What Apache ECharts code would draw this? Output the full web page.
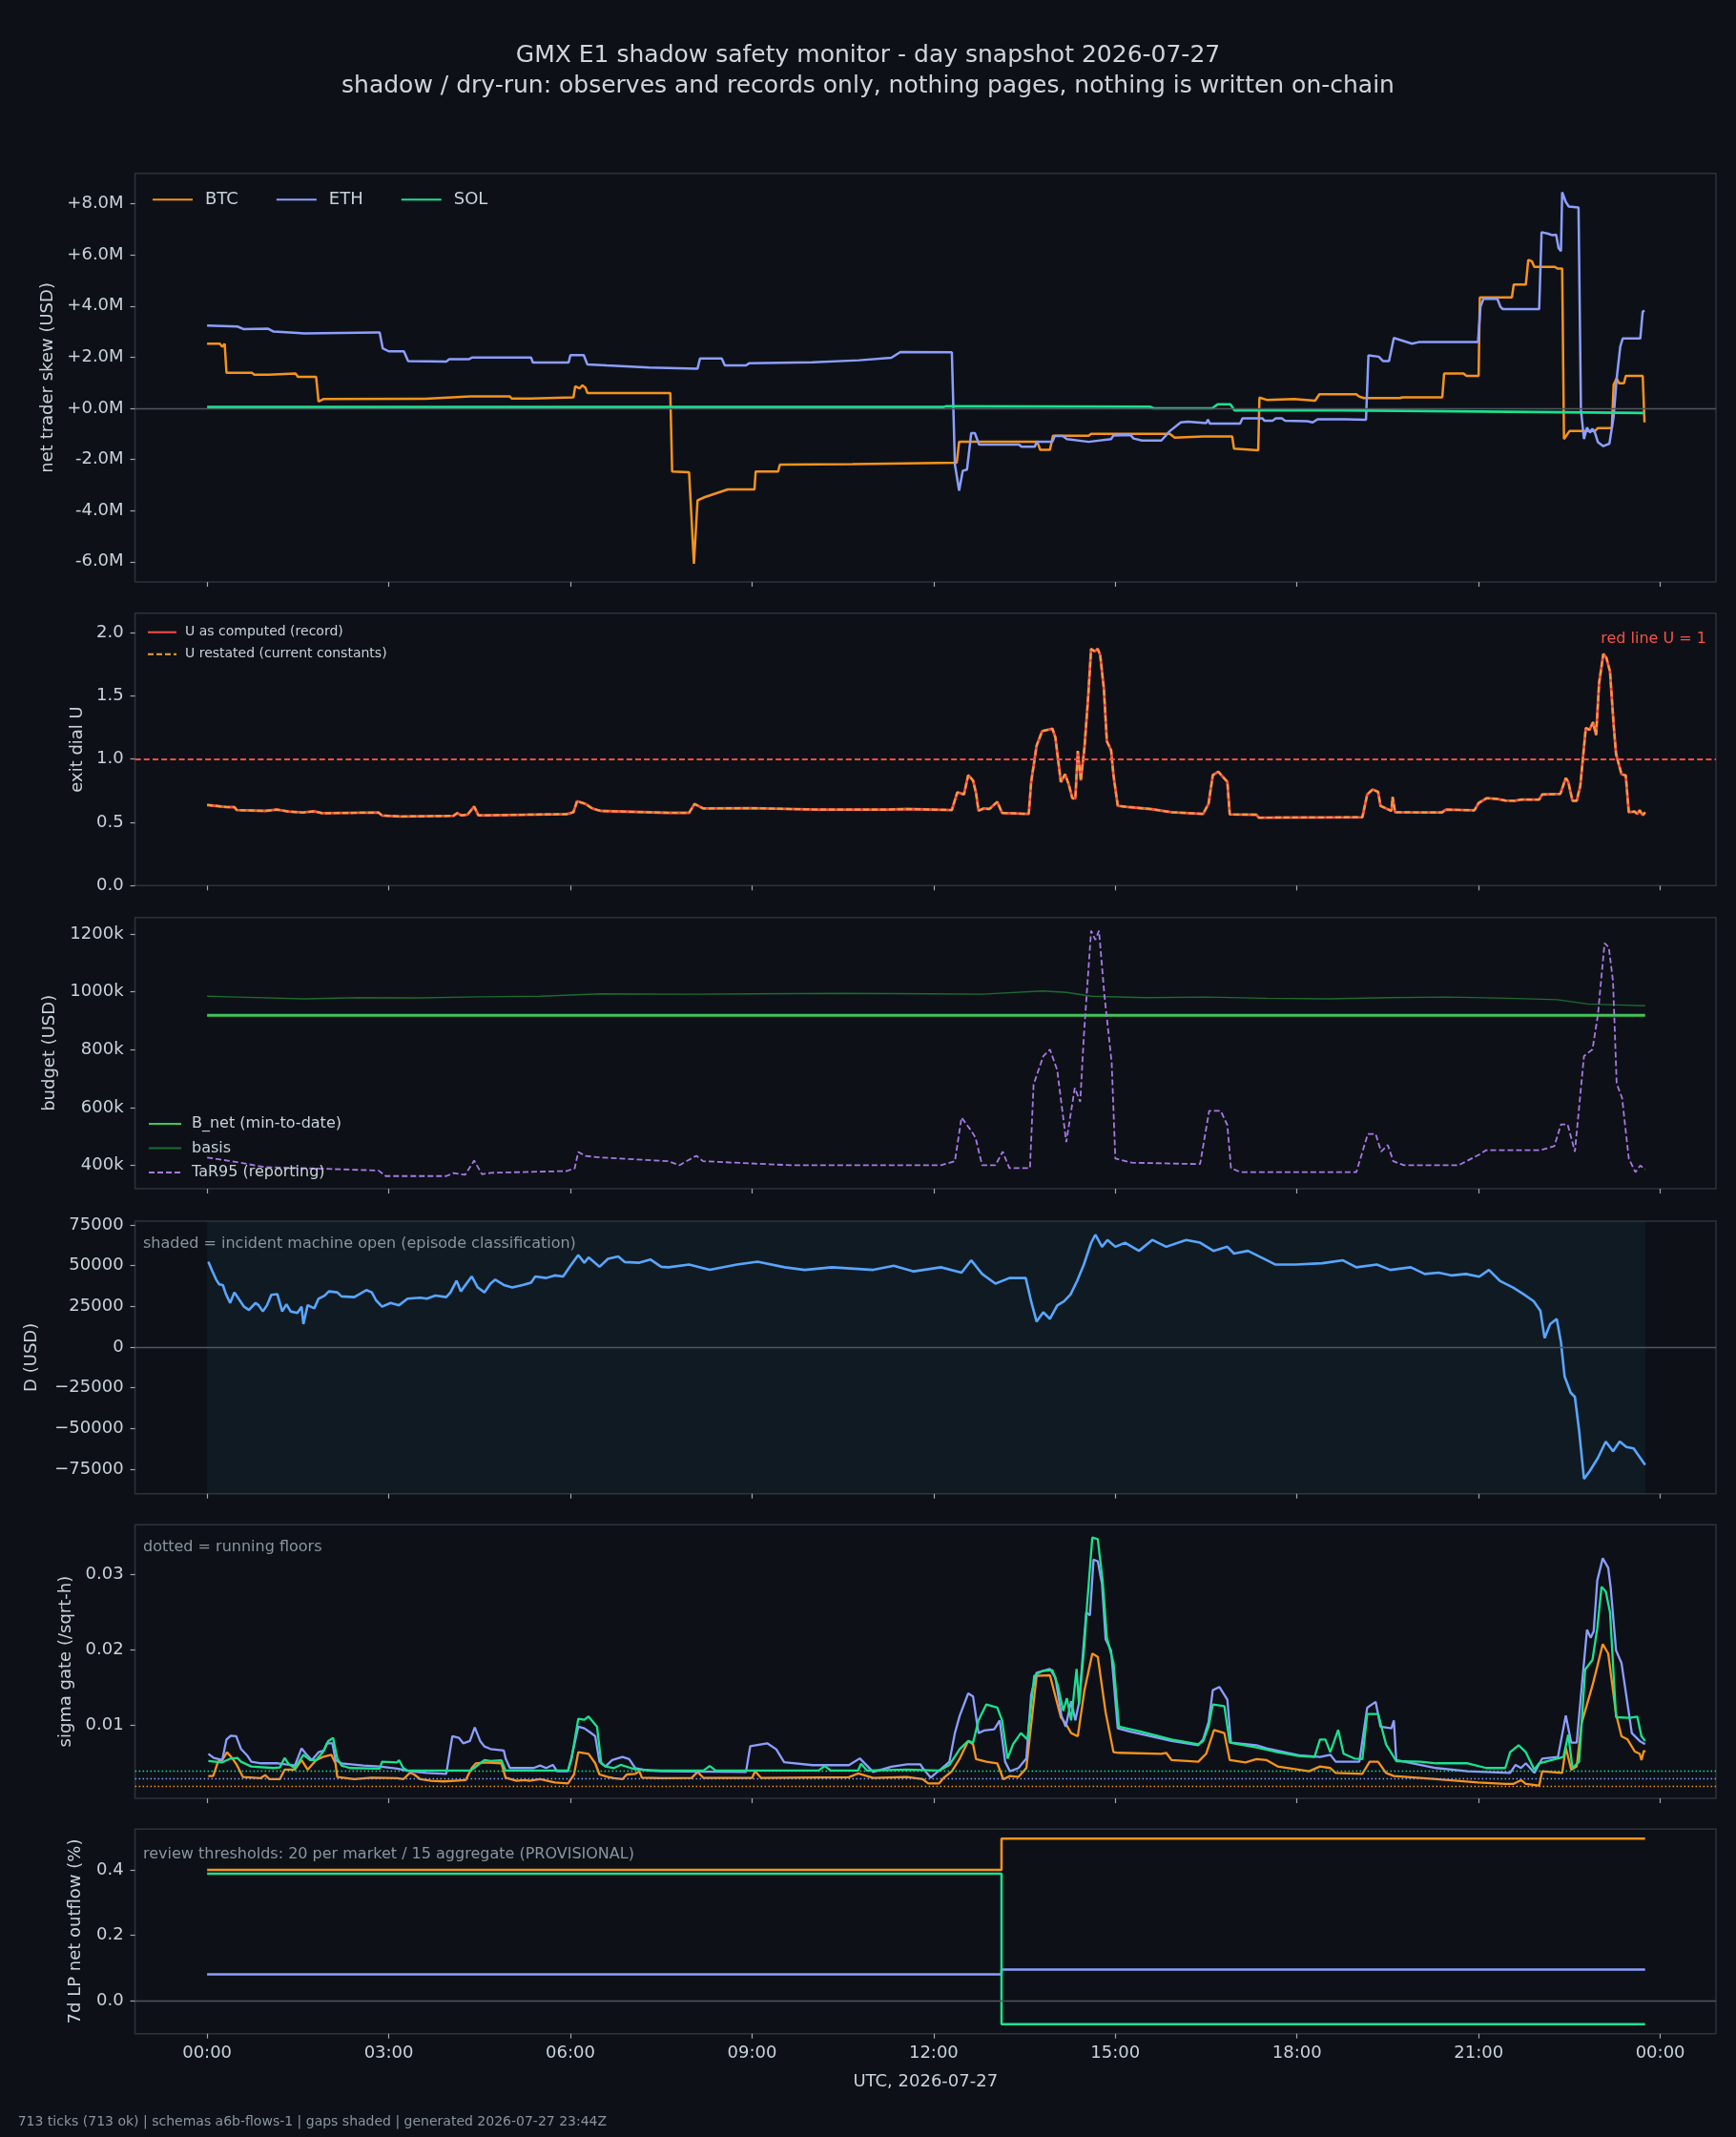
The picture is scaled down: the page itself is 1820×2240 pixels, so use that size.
<!DOCTYPE html>
<html><head><meta charset="utf-8">
<script src="https://cdn.jsdelivr.net/npm/echarts@6/dist/echarts.min.js"></script>
<style>html,body{margin:0;padding:0;background:#0d1117;}#c{width:1820px;height:2240px;}</style>
</head><body><div id="c"></div>
<script>
// ---------- DATA (x = hours since 2026-07-27 00:00 UTC) ----------
const hourTicks = [0,3,6,9,12,15,18,21,24];
// Panel 1: net trader skew, $M
const skewTicks = [-6,-4,-2,0,2,4,6,8];
const skewBTC = [[0,2.53],[0.21,2.53],[0.25,2.41],[0.29,2.53],[0.32,1.39],[0.74,1.39],[0.78,1.32],[1.02,1.32],[1.05,1.36],[1.46,1.36],[1.5,1.23],[1.80,1.23],[1.84,0.27],[1.92,0.36],[3.55,0.37],[3.6,0.37],[4.35,0.47],[5.0,0.47],[5.03,0.38],[5.35,0.38],[5.38,0.43],[6.05,0.43],[6.08,0.86],[6.15,0.78],[6.2,0.9],[6.25,0.8],[6.28,0.6],[7.65,0.6],[7.68,-2.47],[7.96,-2.5],[8.04,-6.08],[8.1,-3.6],[8.2,-3.49],[8.4,-3.33],[8.6,-3.17],[9.04,-3.17],[9.06,-2.47],[9.43,-2.47],[9.46,-2.2],[10.66,-2.18],[12.38,-2.13],[12.42,-1.31],[13.71,-1.31],[13.76,-1.62],[13.92,-1.62],[13.97,-1.07],[14.56,-1.07],[14.6,-1.0],[15.9,-1.0],[15.98,-1.15],[16.45,-1.1],[16.93,-1.1],[16.96,-1.58],[17.36,-1.64],[17.38,0.42],[17.5,0.33],[17.95,0.36],[18.3,0.30],[18.37,0.55],[18.98,0.55],[19.02,0.47],[19.1,0.40],[19.7,0.40],[19.74,0.43],[20.4,0.43],[20.43,1.36],[20.75,1.36],[20.8,1.27],[21.0,1.27],[21.02,4.34],[21.55,4.34],[21.58,4.84],[21.78,4.84],[21.82,5.81],[21.88,5.75],[21.92,5.53],[22.26,5.53],[22.3,5.47],[22.38,5.47],[22.41,-1.2],[22.5,-0.89],[22.92,-0.89],[22.97,-0.77],[23.2,-0.77],[23.23,0.92],[23.28,1.17],[23.32,0.98],[23.4,0.98],[23.43,1.27],[23.71,1.27],[23.74,-0.55]];
const skewETH = [[0,3.24],[0.5,3.2],[0.6,3.1],[1.0,3.12],[1.1,3.0],[1.5,2.95],[1.6,2.93],[2.8,2.97],[2.85,2.97],[2.9,2.35],[3.0,2.23],[3.25,2.23],[3.32,1.85],[3.95,1.83],[4.0,1.92],[4.32,1.92],[4.38,1.99],[5.35,1.99],[5.38,1.79],[5.97,1.79],[6.0,2.08],[6.22,2.08],[6.28,1.72],[6.6,1.68],[7.3,1.6],[8.1,1.55],[8.14,1.95],[8.5,1.95],[8.55,1.68],[8.9,1.68],[8.95,1.76],[10.0,1.8],[10.77,1.88],[11.3,1.98],[11.45,2.2],[12.3,2.19],[12.35,-2.19],[12.42,-3.22],[12.48,-2.44],[12.55,-2.4],[12.62,-0.97],[12.68,-0.97],[12.75,-1.42],[13.41,-1.42],[13.45,-1.5],[13.67,-1.5],[13.70,-1.31],[13.96,-1.31],[14.0,-1.08],[14.13,-1.08],[14.2,-1.2],[14.56,-1.31],[14.93,-1.2],[14.97,-1.06],[15.25,-1.04],[15.3,-1.18],[15.44,-1.26],[15.76,-1.26],[15.9,-0.89],[16.08,-0.55],[16.2,-0.52],[16.5,-0.58],[16.53,-0.44],[16.56,-0.6],[17.06,-0.6],[17.1,-0.39],[17.43,-0.39],[17.46,-0.48],[17.6,-0.48],[17.65,-0.39],[17.75,-0.39],[17.8,-0.48],[18.17,-0.5],[18.26,-0.55],[18.34,-0.43],[18.8,-0.43],[19.14,-0.45],[19.18,2.07],[19.35,2.02],[19.42,1.85],[19.52,1.85],[19.6,2.75],[19.75,2.64],[19.9,2.53],[20.01,2.59],[20.99,2.59],[21.03,3.97],[21.08,4.28],[21.31,4.28],[21.36,3.97],[21.4,3.88],[22.0,3.88],[22.04,6.89],[22.15,6.83],[22.22,6.77],[22.28,6.79],[22.32,6.27],[22.36,6.15],[22.38,8.45],[22.44,8.07],[22.49,7.89],[22.65,7.85],[22.69,-0.07],[22.74,-1.2],[22.79,-0.75],[22.84,-0.95],[22.88,-0.8],[22.92,-0.95],[22.97,-1.32],[23.06,-1.48],[23.16,-1.38],[23.23,-0.32],[23.28,1.17],[23.34,2.42],[23.38,2.73],[23.67,2.73],[23.71,3.78],[23.74,3.82]];
const skewSOL = [[0,0.05],[12.16,0.05],[12.2,0.08],[15.58,0.06],[15.63,0.0],[16.6,0.0],[16.69,0.16],[16.9,0.16],[16.97,-0.08],[18.77,-0.08],[18.8,-0.14],[23.74,-0.18]];
// Panel 2: exit dial U
const uTicks = [0,0.5,1.0,1.5,2.0];
const uRedLine = 1;
const uRecord = [[0,0.637],[0.34,0.62],[0.45,0.62],[0.49,0.597],[0.96,0.59],[1.15,0.60],[1.35,0.585],[1.58,0.577],[1.77,0.587],[1.9,0.572],[2.83,0.577],[2.89,0.554],[3.2,0.546],[4.07,0.551],[4.13,0.573],[4.2,0.555],[4.3,0.56],[4.41,0.625],[4.48,0.555],[4.6,0.555],[5.94,0.565],[6.05,0.58],[6.11,0.667],[6.25,0.645],[6.36,0.61],[6.5,0.59],[7.62,0.575],[7.96,0.575],[8.05,0.645],[8.19,0.61],[9.0,0.612],[10.1,0.60],[11.22,0.60],[11.56,0.605],[12.30,0.597],[12.39,0.737],[12.44,0.73],[12.50,0.72],[12.57,0.873],[12.65,0.83],[12.70,0.73],[12.74,0.592],[12.83,0.61],[12.92,0.605],[13.05,0.662],[13.13,0.574],[13.57,0.566],[13.61,0.818],[13.70,1.106],[13.79,1.22],[13.96,1.24],[14.01,1.17],[14.10,0.818],[14.17,0.88],[14.23,0.80],[14.29,0.69],[14.34,0.69],[14.38,1.064],[14.43,0.83],[14.49,1.09],[14.55,1.48],[14.60,1.87],[14.66,1.85],[14.71,1.87],[14.75,1.82],[14.81,1.56],[14.86,1.14],[14.93,1.07],[14.97,0.87],[15.04,0.63],[15.23,0.62],[15.58,0.605],[15.93,0.58],[16.45,0.566],[16.54,0.648],[16.61,0.873],[16.70,0.90],[16.85,0.82],[16.89,0.562],[17.33,0.56],[17.37,0.537],[19.08,0.54],[19.16,0.72],[19.25,0.76],[19.34,0.74],[19.38,0.63],[19.56,0.59],[19.58,0.70],[19.62,0.58],[20.39,0.577],[20.46,0.6],[20.93,0.595],[21.0,0.652],[21.13,0.69],[21.3,0.685],[21.44,0.672],[21.6,0.67],[21.7,0.68],[22.0,0.68],[22.05,0.72],[22.35,0.725],[22.44,0.85],[22.48,0.82],[22.55,0.67],[22.62,0.67],[22.68,0.79],[22.77,1.245],[22.83,1.23],[22.89,1.29],[22.94,1.19],[22.99,1.6],[23.06,1.83],[23.11,1.8],[23.17,1.69],[23.23,1.27],[23.27,1.04],[23.36,0.88],[23.43,0.87],[23.48,0.58],[23.58,0.585],[23.62,0.566],[23.66,0.595],[23.71,0.555],[23.75,0.58]];
const uRestated = uRecord; // restated values coincide with the record
// Panel 3: budget, $k
const budgetTicks = [400,600,800,1000,1200];
const budgetNet = [[0,919],[23.75,919]];
const budgetBasis = [[0,985],[0.5,982],[1.6,976],[2.5,980],[3.5,979],[4.5,983],[5.5,985],[6.5,993],[8,992],[9,993],[10.5,995],[12,993],[12.8,992],[13.8,1003],[14.2,998],[14.6,985],[15.5,980],[16.5,982],[17.5,978],[18.5,976],[19.5,980],[20.5,982],[21.5,978],[22.3,973],[22.8,958],[23.3,955],[23.75,952]];
const tar95 = [[0,427.7],[0.34,417],[0.96,394.7],[1.89,389],[2.83,383],[2.95,363.7],[3.95,363.7],[4.07,374],[4.26,368],[4.41,417],[4.54,370],[4.69,375],[5.94,381],[6.07,390],[6.13,447],[6.25,433],[6.5,428],[7.62,415],[7.8,401],[8.08,434],[8.19,415],[9.65,401],[12.12,401],[12.35,415],[12.46,566],[12.62,520],[12.69,497],[12.8,401],[13.02,401],[13.14,448],[13.25,391],[13.59,391],[13.65,680],[13.81,778],[13.92,801],[14.04,730],[14.19,481],[14.33,668],[14.42,620],[14.48,848],[14.6,1211],[14.67,1180],[14.73,1211],[14.82,987],[14.94,755],[15.0,424],[15.27,410],[16.4,405],[16.55,589],[16.74,589],[16.85,540],[16.91,391],[17.07,377],[18.98,377],[19.17,509],[19.3,509],[19.39,448],[19.5,471],[19.59,415],[19.77,401],[20.67,401],[21.01,438],[21.12,453],[22.02,453],[22.25,467],[22.36,542],[22.47,542],[22.59,448],[22.74,778],[22.88,801],[22.97,920],[23.08,1168],[23.15,1154],[23.22,1036],[23.28,683],[23.37,633],[23.48,424],[23.59,377],[23.67,400],[23.75,387]];
// Panel 4: D, USD
const dTicks = [-75000,-50000,-25000,0,25000,50000,75000];
const incidentOpen = [[0,23.75]];
const dUsd = [[0.02,52500],[0.08,47200],[0.15,41400],[0.2,38500],[0.26,38100],[0.31,32600],[0.38,27100],[0.45,33600],[0.52,29700],[0.61,24800],[0.69,22800],[0.8,27100],[0.85,25700],[0.92,21900],[0.99,25700],[1.06,32100],[1.16,32500],[1.24,21900],[1.31,26300],[1.38,21900],[1.49,20900],[1.56,24800],[1.59,14100],[1.66,25700],[1.77,23800],[1.84,29700],[1.94,31600],[2.01,34200],[2.15,33600],[2.22,31100],[2.43,30700],[2.63,35000],[2.72,33600],[2.79,28700],[2.89,24800],[3.03,27100],[3.17,25700],[3.31,29700],[3.52,30300],[3.63,29700],[3.77,31600],[3.95,30700],[4.02,33600],[4.12,40800],[4.19,34200],[4.37,43400],[4.47,36600],[4.58,33600],[4.68,38900],[4.76,41400],[4.9,38100],[5.04,36600],[5.21,38100],[5.35,39500],[5.42,43400],[5.6,42400],[5.74,44000],[5.88,43400],[5.99,49300],[6.13,56500],[6.23,51800],[6.3,55100],[6.48,49300],[6.62,54200],[6.79,55700],[6.9,52200],[7.14,51800],[7.32,53800],[7.5,49300],[7.62,49000],[7.96,50700],[8.3,47400],[8.75,50700],[9.09,52400],[9.54,49000],[9.87,47400],[10.32,49000],[11.0,47400],[11.34,49900],[11.67,46500],[12.12,49000],[12.46,45700],[12.62,53300],[12.8,44900],[13.02,39000],[13.25,42400],[13.52,42400],[13.61,28000],[13.7,15600],[13.81,21400],[13.92,17300],[14.04,25600],[14.15,28000],[14.26,32300],[14.37,40700],[14.48,50700],[14.6,64000],[14.67,69000],[14.78,61600],[14.87,65800],[15.0,61600],[15.16,64100],[15.39,59100],[15.61,65800],[15.84,61600],[16.17,65800],[16.4,64100],[16.62,59100],[16.85,61600],[16.96,57400],[17.19,59100],[17.42,54900],[17.64,50700],[17.98,50700],[18.42,51500],[18.76,53300],[18.98,49000],[19.32,50700],[19.54,47400],[19.88,49000],[20.11,44900],[20.34,45700],[20.56,44000],[20.79,44900],[21.01,43200],[21.17,47400],[21.35,40700],[21.57,36500],[21.75,32300],[21.91,28100],[22.02,22300],[22.09,5500],[22.18,14000],[22.29,17300],[22.36,3000],[22.42,-18000],[22.52,-28000],[22.59,-30600],[22.66,-51400],[22.74,-81000],[22.83,-76500],[22.97,-68100],[23.1,-58000],[23.22,-64000],[23.33,-58000],[23.44,-61400],[23.56,-62300],[23.67,-68100],[23.75,-72300]];
// Panel 5: sigma gate (x1e-3 /sqrt-h)
const sigmaTicks = [10,20,30];
const sigmaFloors = [1.92, 2.93, 3.94]; // BTC, ETH, SOL running floors
const sigmaBTC = [[0.02,3.26],[0.1,3.26],[0.18,5.16],[0.25,5.37],[0.33,6.42],[0.42,5.58],[0.49,4.74],[0.59,3.14],[0.88,2.97],[0.96,3.39],[1.03,2.84],[1.2,2.84],[1.28,4.11],[1.45,4.11],[1.56,5.37],[1.66,4.11],[1.8,5.37],[1.91,5.79],[2.05,6.08],[2.12,4.95],[2.15,3.14],[2.43,2.84],[2.72,3.05],[3.14,2.97],[3.24,2.84],[3.35,3.69],[3.42,3.47],[3.52,2.84],[3.7,2.63],[3.91,2.55],[4.27,2.72],[4.37,4.32],[4.44,4.95],[4.58,5.07],[4.86,4.95],[4.93,3.05],[5.11,2.63],[5.25,2.72],[5.32,2.63],[5.5,2.84],[5.74,2.42],[5.96,2.29],[6.06,3.47],[6.13,6.42],[6.3,6.21],[6.41,4.95],[6.48,3.47],[6.62,3.14],[6.72,2.97],[6.86,2.84],[6.93,3.47],[7.07,3.56],[7.14,3.89],[7.18,3.05],[7.5,2.97],[8.0,3.0],[8.1,3.8],[8.2,3.0],[9.0,3.0],[9.05,3.9],[9.15,3.0],[10.6,3.1],[10.75,3.6],[11.0,3.0],[11.56,3.14],[11.82,2.84],[11.91,2.29],[12.09,2.29],[12.17,3.05],[12.3,3.89],[12.43,5.58],[12.57,7.9],[12.65,7.47],[12.7,5.5],[12.87,5.16],[13.05,4.95],[13.15,2.84],[13.26,3.26],[13.4,3.14],[13.53,4.32],[13.70,16.53],[13.92,16.61],[14.1,11.05],[14.18,10.21],[14.27,8.95],[14.38,8.53],[14.49,14.63],[14.62,19.48],[14.71,19.05],[14.84,11.68],[14.97,6.42],[15.06,6.34],[15.76,6.21],[15.84,6.34],[15.93,5.37],[16.37,5.16],[16.5,6.21],[16.63,9.37],[16.8,8.95],[16.89,5.37],[17.15,5.07],[17.33,5.5],[17.5,5.37],[17.68,4.53],[18.2,3.89],[18.38,4.53],[18.55,4.32],[18.64,3.68],[19.08,3.56],[19.2,5.16],[19.34,5.16],[19.47,3.68],[19.6,3.26],[20.3,2.84],[20.99,2.42],[21.44,2.21],[21.57,2.21],[21.7,2.72],[21.78,2.21],[22.0,2.0],[22.05,3.89],[22.38,3.68],[22.44,7.05],[22.53,4.11],[22.62,4.53],[22.7,10.21],[22.88,15.26],[22.96,17.79],[23.05,20.74],[23.14,19.48],[23.27,11.47],[23.36,8.53],[23.46,8.1],[23.58,6.5],[23.66,6.21],[23.69,5.37],[23.73,6.63],[23.75,6.42]];
const sigmaETH = [[0.02,6.21],[0.11,5.66],[0.25,5.37],[0.32,8.1],[0.39,8.61],[0.48,8.53],[0.56,6.84],[0.66,6.0],[0.73,5.16],[0.89,4.95],[1.17,4.95],[1.45,4.65],[1.56,6.93],[1.63,6.21],[1.73,5.37],[1.84,6.42],[1.93,6.63],[1.98,7.6],[2.07,7.6],[2.12,5.37],[2.22,4.95],[2.58,4.65],[2.85,4.53],[3.14,4.23],[3.35,3.89],[3.63,3.68],[3.95,3.56],[4.05,8.53],[4.16,8.32],[4.23,7.6],[4.34,7.9],[4.42,9.71],[4.51,7.9],[4.58,7.18],[4.68,6.84],[4.9,6.63],[4.93,5.58],[5.0,4.32],[5.39,4.32],[5.5,4.65],[5.6,4.32],[5.71,4.74],[5.78,3.89],[5.96,3.89],[6.02,5.79],[6.13,9.79],[6.23,9.58],[6.33,9.03],[6.41,8.53],[6.48,5.16],[6.58,4.53],[6.69,5.37],[6.86,5.79],[6.97,5.5],[7.07,4.32],[7.29,3.98],[7.5,3.89],[8.9,3.8],[8.97,7.2],[9.25,7.6],[9.4,6.8],[9.53,5.1],[10.0,4.7],[10.6,4.7],[10.78,5.6],[11.0,3.8],[11.3,4.5],[11.56,4.82],[11.78,4.82],[11.82,4.32],[11.95,3.05],[12.04,3.68],[12.13,4.23],[12.26,5.16],[12.35,8.95],[12.43,11.26],[12.57,14.21],[12.65,13.79],[12.74,8.95],[12.83,9.29],[13.0,9.45],[13.09,10.63],[13.18,5.16],[13.26,3.89],[13.4,4.32],[13.53,5.58],[13.61,14.0],[13.70,16.95],[13.92,17.45],[14.01,16.32],[14.11,11.26],[14.18,9.79],[14.27,13.16],[14.34,10.63],[14.4,12.95],[14.52,24.95],[14.58,24.53],[14.64,31.9],[14.71,31.7],[14.78,28.74],[14.84,21.37],[14.93,19.9],[15.04,9.58],[15.23,9.16],[15.58,8.53],[15.93,7.9],[16.37,7.35],[16.45,8.1],[16.54,10.42],[16.61,14.63],[16.72,15.05],[16.85,13.37],[16.91,7.68],[17.33,7.35],[17.5,6.93],[18.03,6.0],[18.38,5.79],[18.55,6.08],[18.64,5.16],[19.03,5.16],[19.16,12.32],[19.3,13.08],[19.38,9.79],[19.56,9.58],[19.6,10.63],[19.64,5.37],[20.3,4.32],[20.82,3.89],[21.52,3.68],[21.61,4.74],[21.7,4.32],[21.78,4.95],[21.92,3.68],[22.05,5.58],[22.31,5.79],[22.44,11.26],[22.53,7.68],[22.62,7.68],[22.7,14.84],[22.79,22.63],[22.85,21.58],[22.9,22.42],[22.96,29.16],[23.05,32.1],[23.14,30.84],[23.18,28.32],[23.27,19.9],[23.36,18.21],[23.43,14.42],[23.53,8.95],[23.66,7.9],[23.75,7.47]];
const sigmaSOL = [[0.02,5.24],[0.25,5.07],[0.39,5.58],[0.5,5.66],[0.56,5.16],[0.73,4.53],[1.1,4.32],[1.2,4.4],[1.28,5.66],[1.35,4.82],[1.45,4.32],[1.59,6.08],[1.7,5.37],[1.8,5.37],[1.91,6.42],[2.0,7.9],[2.08,8.32],[2.15,5.58],[2.22,4.65],[2.36,4.32],[2.85,4.23],[2.89,5.16],[3.14,5.07],[3.17,5.37],[3.24,4.32],[3.31,3.98],[4.34,3.98],[4.41,4.32],[4.58,5.37],[4.68,5.24],[4.86,5.33],[4.93,3.98],[5.96,3.98],[6.02,5.58],[6.13,10.84],[6.23,10.72],[6.3,11.14],[6.44,9.79],[6.51,4.95],[6.58,4.53],[6.72,4.32],[6.83,4.74],[7.0,4.32],[7.11,4.11],[7.5,3.98],[8.2,3.98],[8.3,4.6],[8.4,3.98],[10.1,3.98],[10.2,4.6],[10.3,3.98],[10.75,3.98],[10.8,4.9],[10.9,3.98],[11.56,4.11],[12.09,3.98],[12.26,4.74],[12.43,6.84],[12.57,7.9],[12.65,7.68],[12.74,10.63],[12.87,12.74],[13.05,12.32],[13.13,10.63],[13.22,5.58],[13.31,7.47],[13.44,8.95],[13.55,8.1],[13.66,16.53],[13.79,17.16],[13.96,17.29],[14.05,15.26],[14.14,11.89],[14.2,13.58],[14.27,10.63],[14.36,17.45],[14.4,12.74],[14.49,20.74],[14.53,25.58],[14.62,34.84],[14.71,34.63],[14.79,29.16],[14.86,21.58],[14.97,18.21],[15.06,9.79],[15.41,9.16],[15.93,8.1],[16.37,7.47],[16.45,7.89],[16.54,9.79],[16.61,12.74],[16.8,12.53],[16.89,7.68],[17.33,7.05],[17.68,6.42],[18.03,5.92],[18.29,5.79],[18.38,8.1],[18.47,8.1],[18.55,6.42],[18.68,9.37],[18.77,6.21],[18.95,5.58],[19.08,5.5],[19.16,11.47],[19.34,11.47],[19.47,7.47],[19.64,5.24],[20.04,5.16],[20.3,4.95],[20.82,4.95],[21.13,4.32],[21.44,4.32],[21.52,6.42],[21.66,7.35],[21.78,6.42],[21.92,4.11],[22.0,4.95],[22.4,5.79],[22.48,8.74],[22.55,4.32],[22.66,5.16],[22.76,17.37],[22.88,18.63],[22.96,22.84],[23.03,28.32],[23.1,27.69],[23.17,24.95],[23.27,11.05],[23.49,10.97],[23.62,11.14],[23.69,8.53],[23.75,7.9]];
// Panel 6: 7d LP net outflow, %
const outflowTicks = [0,0.2,0.4];
const outflowBTC = [[0,0.400],[13.12,0.496],[23.75,0.496]];
const outflowETH = [[0,0.080],[13.12,0.095],[23.75,0.095]];
const outflowSOL = [[0,0.388],[13.12,-0.072],[23.75,-0.072]];

// ---------- STYLE ----------
const FF = '"DejaVu Sans", sans-serif';
const BG = '#0d1117', FG = '#c9d1d9', DIM = '#8b949e', FRAME = '#2d323b', ZERO = '#50565f';
const C = {BTC:'#f7931a', ETH:'#8c9eff', SOL:'#19e28f'};
const L = 141.6, R = 21;
const gridBoxes = [[181.7,428.3],[642.7,285.6],[961.7,284.3],[1280,285.7],[1598.3,286.7],[1917.3,214.4]];
const grid = gridBoxes.map(b => ({left:L, right:R, top:b[0], height:b[1], show:true, borderColor:FRAME, borderWidth:1.5, backgroundColor:'transparent', containLabel:false}));
const pad2 = n => (n < 10 ? '0' : '') + n;
const tickStyle = {color:'#a0a6ae', width:1.2};
const xAxis = gridBoxes.map((b,i) => ({
  type:'value', gridIndex:i, min:-1.19, max:24.92, position:'bottom',
  axisLine:{show:false, onZero:false}, splitLine:{show:false},
  axisTick:{show:true, customValues:hourTicks, length:5, lineStyle:tickStyle},
  axisLabel:{show:i===5, customValues:hourTicks, formatter:v=>pad2(Math.round(v)%24)+':00', color:FG, fontSize:18, fontFamily:FF, margin:12},
  name: i===5 ? 'UTC, 2026-07-27' : '', nameLocation:'middle', nameGap:42,
  nameTextStyle:{color:FG, fontSize:18, fontFamily:FF}
}));
function yAx(i, min, max, ticks, fmt, name, gap){
  return {type:'value', gridIndex:i, min:min, max:max, position:'left',
    axisLine:{show:false, onZero:false}, splitLine:{show:false},
    axisTick:{show:true, customValues:ticks, length:5, lineStyle:tickStyle},
    axisLabel:{customValues:ticks, formatter:fmt, color:FG, fontSize:18, fontFamily:FF, margin:12},
    name:name, nameLocation:'middle', nameRotate:90, nameGap:gap,
    nameTextStyle:{color:FG, fontSize:18, fontFamily:FF}};
}
const minus = s => s.replace('-', '\u2212');
const yAxis = [
  yAx(0, -6.79, 9.19, skewTicks, v => (v>=0?'+':'') + v.toFixed(1) + 'M', 'net trader skew (USD)', 82),
  yAx(1, 0, 2.152, uTicks, v => v.toFixed(1), 'exit dial U', 51),
  yAx(2, 320, 1257, budgetTicks, v => v + 'k', 'budget (USD)', 80),
  yAx(3, -90060, 77340, dTicks, v => minus(String(v)), 'D (USD)', 99),
  yAx(4, 0.31, 36.53, sigmaTicks, v => (v/1000).toFixed(2), 'sigma gate (/sqrt-h)', 63),
  yAx(5, -0.1013, 0.5247, outflowTicks, v => v.toFixed(1), '7d LP net outflow (%)', 53)
];
function line(name, data, gi, color, width, extra){
  return Object.assign({type:'line', name:name, data:data, xAxisIndex:gi, yAxisIndex:gi,
    showSymbol:false, symbol:'none', animation:false, silent:true,
    lineStyle:{color:color, width:width}, itemStyle:{color:color}}, extra||{});
}
const zeroLine = {silent:true, symbol:['none','none'], label:{show:false}, animation:false,
  lineStyle:{color:ZERO, width:1.3, type:'solid'}, data:[{yAxis:0}]};
const floorLine = (v,c) => ({silent:true, symbol:['none','none'], label:{show:false}, animation:false,
  lineStyle:{color:c, width:1.3, type:[1.5,2.5]}, data:[{yAxis:v}]});

const series = [
  line('BTC', skewBTC, 0, C.BTC, 2.5, {markLine:zeroLine, z:2}),
  line('ETH', skewETH, 0, C.ETH, 2.5, {z:3}),
  line('SOL', skewSOL, 0, C.SOL, 2.6, {z:4}),
  line('U as computed (record)', uRecord, 1, '#ff4a4a', 2.8, {markLine:{silent:true, symbol:['none','none'], label:{show:false}, animation:false, lineStyle:{color:'#f85149', width:2, type:[6,3.2]}, data:[{yAxis:uRedLine}]}}),
  line('U restated (current constants)', uRestated, 1, '#e8a23a', 2.2, {lineStyle:{color:'#e8a23a', width:2.2, type:[6,3]}}),
  line('B_net (min-to-date)', budgetNet, 2, '#3fc756', 3.2),
  line('basis', budgetBasis, 2, '#1d6a31', 1.4),
  line('TaR95 (reporting)', tar95, 2, '#a879e3', 1.8, {lineStyle:{color:'#a879e3', width:1.8, type:[6,3]}}),
  line('D', dUsd, 3, '#58a6ff', 2.6, {markLine:zeroLine, markArea:{silent:true, itemStyle:{color:'rgba(60,120,170,0.09)'}, data:incidentOpen.map(s=>[{xAxis:s[0]},{xAxis:s[1]}])}}),
  line('BTC sigma', sigmaBTC, 4, C.BTC, 2.3, {markLine:floorLine(sigmaFloors[0], C.BTC)}),
  line('ETH sigma', sigmaETH, 4, C.ETH, 2.3, {markLine:floorLine(sigmaFloors[1], C.ETH)}),
  line('SOL sigma', sigmaSOL, 4, C.SOL, 2.3, {markLine:floorLine(sigmaFloors[2], C.SOL)}),
  line('BTC outflow', outflowBTC, 5, C.BTC, 2.5, {step:'end', markLine:zeroLine}),
  line('ETH outflow', outflowETH, 5, C.ETH, 2.5, {step:'end'}),
  line('SOL outflow', outflowSOL, 5, C.SOL, 2.5, {step:'end'})
];
const noSym = {color:'rgba(0,0,0,0)', borderColor:'rgba(0,0,0,0)', borderWidth:0};
const legend = [
  {data:['BTC','ETH','SOL'], left:159, top:200.3, padding:0, orient:'horizontal', itemWidth:42, itemHeight:14, itemGap:39, selectedMode:false, itemStyle:noSym,
   textStyle:{color:FG, fontSize:18, fontFamily:FF, padding:[0,0,0,8]}},
  {data:['U as computed (record)','U restated (current constants)'], left:154, top:655.7, padding:0, orient:'vertical', itemWidth:30, itemHeight:12, itemGap:9, selectedMode:false, itemStyle:noSym,
   textStyle:{color:FG, fontSize:14, fontFamily:FF, padding:[0,0,0,4]}},
  {data:['B_net (min-to-date)','basis','TaR95 (reporting)'], left:155, top:1170, padding:0, orient:'vertical', itemWidth:34, itemHeight:14, itemGap:9.5, selectedMode:false, itemStyle:noSym,
   textStyle:{color:FG, fontSize:16, fontFamily:FF, padding:[0,0,0,6]}}
];
function txt(t, x, y, size, color, align){
  return {type:'text', x:x, y:y, silent:true, z:100,
    style:{text:t, fill:color, fontSize:size, fontFamily:FF, align:align||'left', textAlign:align||'left', verticalAlign:'middle', textVerticalAlign:'middle'}};
}
const graphic = [
  txt('GMX E1 shadow safety monitor - day snapshot 2026-07-27', 910, 58.5, 25, '#d0d5db', 'center'),
  txt('shadow / dry-run: observes and records only, nothing pages, nothing is written on-chain', 910, 90, 25, '#d0d5db', 'center'),
  txt('red line U = 1', 1789, 670, 16, '#f85149', 'right'),
  txt('shaded = incident machine open (episode classification)', 150, 1303.7, 16, DIM),
  txt('dotted = running floors', 150, 1622.3, 16, DIM),
  txt('review thresholds: 20 per market / 15 aggregate (PROVISIONAL)', 150, 1944.3, 16, DIM),
  txt('713 ticks (713 ok) | schemas a6b-flows-1 | gaps shaded | generated 2026-07-27 23:44Z', 18.7, 2224, 14, DIM)
];
const chart = echarts.init(document.getElementById('c'), null, {renderer:'canvas'});
chart.setOption({backgroundColor:BG, animation:false, textStyle:{fontFamily:FF}, grid, xAxis, yAxis, series, legend, graphic});
</script></body></html>
